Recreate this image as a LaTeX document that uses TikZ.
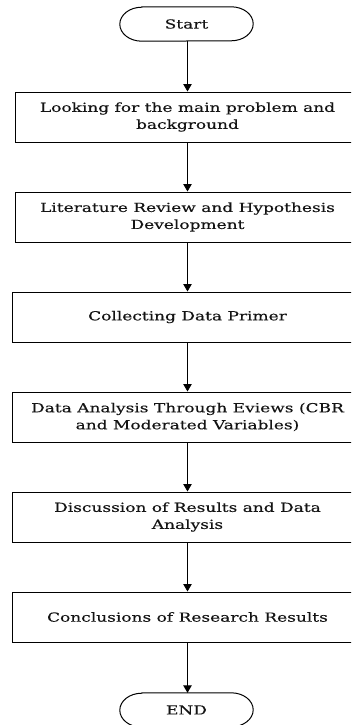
\documentclass[tikz,border=0pt]{standalone}
\usepackage{fontspec}
\setmainfont[FakeStretch=1.36,FakeBold=0.3]{DejaVu Serif}
\usetikzlibrary{arrows.meta}
\begin{document}
\begin{tikzpicture}[x=1pt,y=-1pt,
  every node/.style={font=\fontsize{12.5}{17}\selectfont, text=black!92},
  procbox/.style={draw, line width=1pt, minimum height=50pt, align=center, inner sep=0pt},
  termbox/.style={minimum width=133pt, minimum height=34pt, inner sep=0pt},
  flow/.style={line width=0.9pt, -{Triangle[width=8.5pt,length=7.5pt]}},
  outline/.style={line width=1pt}]
\useasboundingbox (0,0) rectangle (351,725);
\clip (0,0) rectangle (351,725);

\node[termbox] (s) at (186.5,24) {Start};
\node[procbox, minimum width=345pt] (b1) at (187.5,117) {Looking for the main problem and\\background};
\node[procbox, minimum width=345pt] (b2) at (187.5,217) {Literature Review and Hypothesis\\Development};
\node[procbox, minimum width=351pt] (b3) at (187.5,317) {Collecting Data Primer};
\node[procbox, minimum width=351pt] (b4) at (187.5,417) {Data Analysis Through Eviews (CBR\\and Moderated Variables)};
\node[procbox, minimum width=351pt] (b5) at (187.5,517) {Discussion of Results and Data\\Analysis};
\node[procbox, minimum width=351pt] (b6) at (187.5,617) {Conclusions of Research Results};
\node[termbox] (e) at (186.5,710) {END};

\foreach \t in {s,e}{
  \draw[outline] ([xshift=22pt]\t.north west) -- ([xshift=-22pt]\t.north east)
    arc[start angle=90, end angle=-90, x radius=22pt, y radius=17pt]
    -- ([xshift=22pt]\t.south west)
    arc[start angle=270, end angle=90, x radius=22pt, y radius=17pt] -- cycle;
}

\draw[flow] (s.south -| b1.north) -- (b1.north);
\draw[flow] (b1.south) -- (b2.north);
\draw[flow] (b2.south) -- (b3.north);
\draw[flow] (b3.south) -- (b4.north);
\draw[flow] (b4.south) -- (b5.north);
\draw[flow] (b5.south) -- (b6.north);
\draw[flow] (b6.south) -- (e.north -| b6.south);
\end{tikzpicture}
\end{document}
